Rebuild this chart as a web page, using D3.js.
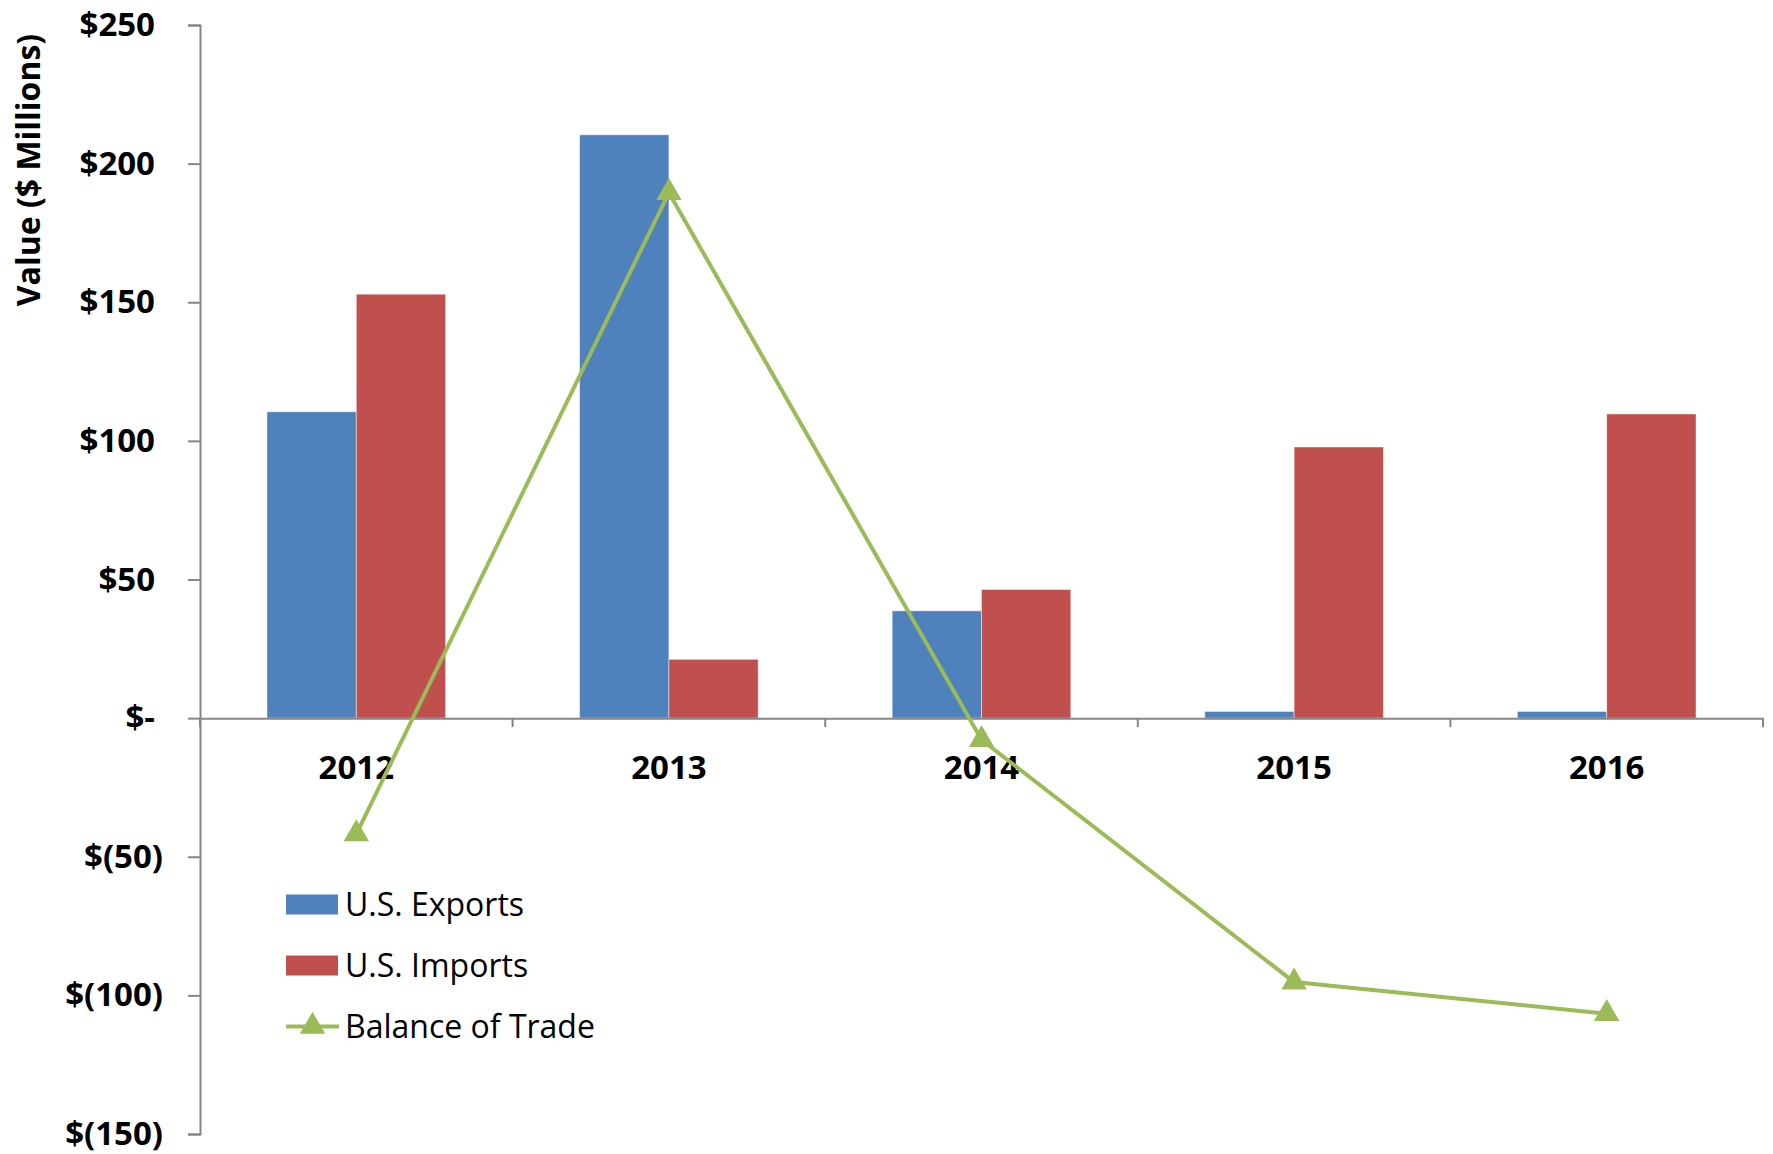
<!DOCTYPE html>
<meta charset="utf-8">
<head>
    <title>U.S. Trade</title>
    <script src="https://cdn.jsdelivr.net/npm/d3@7"></script>
</head>

<style>
    body { margin: 0; background: #fff; }
    text { font-family: "Open Sans", "Liberation Sans", sans-serif; fill: #000; }
    .axis path, .axis line { stroke: #868686; stroke-width: 2px; }
    .axis text { font-size: 33px; font-weight: bold; }
    .legend text { font-size: 32px; }
</style>

<svg></svg>

<script>
    var vWidth = 1773;
    var vHeight = 1154;

    // values in $ millions
    var years = ["2012", "2013", "2014", "2015", "2016"];
    var exportsVals = [110.5, 210.4, 38.7, 2.4, 2.4];
    var importsVals = [152.9, 21.2, 46.4, 97.8, 109.7];
    var balanceVals = [-41.8, 189.5, -7.8, -95.2, -106.6];
    var yTicks = [-150, -100, -50, 0, 50, 100, 150, 200, 250];
    var seriesNames = ["U.S. Exports", "U.S. Imports", "Balance of Trade"];
    var colors = ["#4F81BD", "#C0504D", "#9BBB59"];

    var svg = d3.select('svg').attr('width', vWidth).attr('height', vHeight);

    // scales
    var y = d3.scaleLinear().domain([-150, 250]).range([1134, 25]);
    var x0 = d3.scaleBand().domain(years).range([200, 1763]);
    var x1 = d3.scaleBand().domain([0, 1]).range([0, x0.bandwidth()])
        .paddingInner(0).paddingOuter(0.75);

    var rows = years.map(function (yr, i) {
        return { year: yr, vals: [exportsVals[i], importsVals[i]], bal: balanceVals[i] };
    });

    // bars
    var groups = svg.append('g').selectAll('g').data(rows).enter().append('g')
        .attr('transform', function (d) { return 'translate(' + x0(d.year) + ',0)'; });
    groups.selectAll('rect').data(function (d) { return d.vals; }).enter().append('rect')
        .attr('x', function (d, i) { return x1(i); })
        .attr('y', function (d) { return y(Math.max(0, d)); })
        .attr('width', x1.bandwidth())
        .attr('height', function (d) { return Math.abs(y(d) - y(0)); })
        .attr('fill', function (d, i) { return colors[i]; })
        .attr('stroke', 'rgba(255,255,255,0.45)')
        .attr('stroke-width', 1);

    // y axis
    var fmt = function (d) {
        if (d === 0) return '$-';
        return d < 0 ? '$(' + (-d) + ')' : '$' + d;
    };
    var yAxis = svg.append('g').attr('class', 'axis')
        .attr('transform', 'translate(200,0)')
        .call(d3.axisLeft(y).tickValues(yTicks).tickFormat(fmt)
            .tickSize(12).tickSizeOuter(12).tickPadding(25));
    // accounting alignment: positive values sit left of the ")" column
    yAxis.selectAll('.tick text').filter(function (d) { return d >= 0; })
        .attr('x', -45);

    // x axis
    var xAxis = svg.append('g').attr('class', 'axis')
        .attr('transform', 'translate(0,' + y(0) + ')')
        .call(d3.axisBottom(x0).tickSize(0).tickSizeOuter(0).tickPadding(37));
    xAxis.selectAll('.tick text').attr('dy', '0.71em');
    xAxis.selectAll('line.bound').data(years.map(function (d) { return x0(d); }).concat([x0.range()[1]]))
        .enter().append('line').attr('class', 'bound')
        .attr('x1', function (d) { return d; }).attr('x2', function (d) { return d; })
        .attr('y1', 0).attr('y2', 9);

    // y axis title
    svg.append('text')
        .attr('transform', 'translate(27,170) rotate(-90)')
        .attr('text-anchor', 'middle')
        .attr('dominant-baseline', 'central')
        .style('font-size', '32px').style('font-weight', 'bold')
        .text('Value ($ Millions)');

    // balance line
    var cx = function (d) { return x0(d.year) + x0.bandwidth() / 2; };
    var line = d3.line().x(cx).y(function (d) { return y(d.bal); });
    svg.append('path').datum(rows)
        .attr('d', line).attr('fill', 'none')
        .attr('stroke', colors[2]).attr('stroke-width', 4);
    var tri = d3.symbol().type(d3.symbolTriangle).size(280);
    svg.append('g').selectAll('path').data(rows).enter().append('path')
        .attr('d', tri)
        .attr('transform', function (d) { return 'translate(' + cx(d) + ',' + y(d.bal) + ')'; })
        .attr('fill', colors[2]);

    // legend
    var legend = svg.append('g').attr('class', 'legend');
    var rowY = [904.5, 965.5, 1026.5];
    seriesNames.forEach(function (name, i) {
        var g = legend.append('g').attr('transform', 'translate(286,' + rowY[i] + ')');
        if (i < 2) {
            g.append('rect').attr('x', 0).attr('y', -10).attr('width', 52).attr('height', 20)
                .attr('fill', colors[i]);
        } else {
            g.append('line').attr('x1', 0).attr('x2', 53).attr('y1', 0).attr('y2', 0)
                .attr('stroke', colors[2]).attr('stroke-width', 4);
            g.append('path').attr('d', tri).attr('transform', 'translate(26.5,0)')
                .attr('fill', colors[2]);
        }
        g.append('text').attr('x', 59).attr('y', 0).attr('dy', '0.36em').text(name);
    });
</script>
